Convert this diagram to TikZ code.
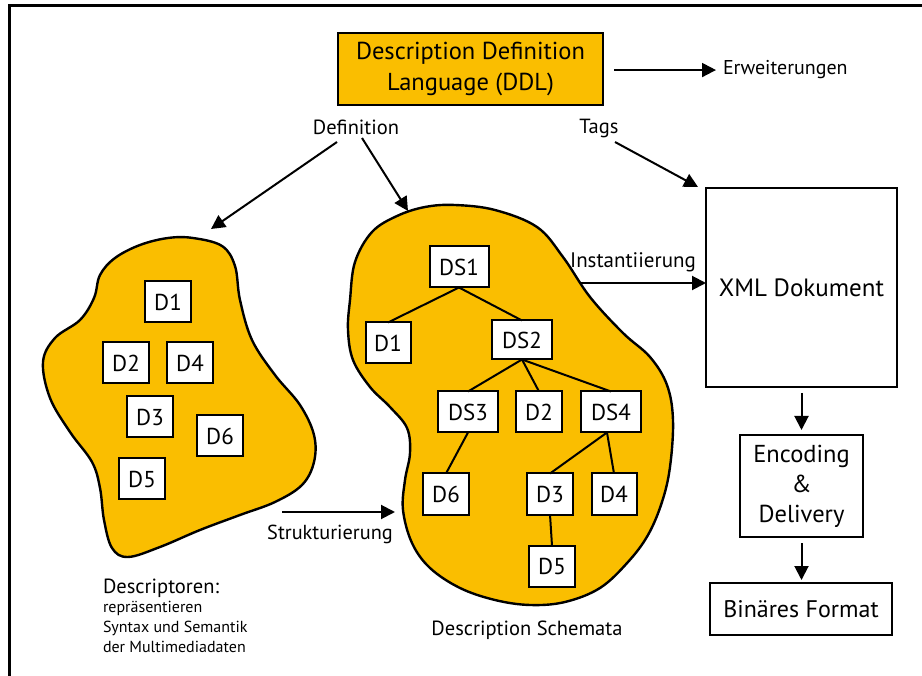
\documentclass[tikz,border=0pt]{standalone}
\usepackage{fontspec}
\setmainfont{PT Sans}
\usetikzlibrary{arrows.meta}
\definecolor{ddlgold}{RGB}{250,190,0}
\newcommand{\fs}[2]{\fontsize{#1}{#2}\selectfont}
\tikzset{
  every node/.style={inner sep=0pt, outer sep=0pt},
  blob/.style={draw=black, fill=ddlgold, line width=2.4pt},
  dbox/.style={draw=black, fill=white, line width=2pt, minimum width=46pt,
    minimum height=41pt, font=\fs{23}{26}},
  dsbox/.style={dbox, minimum width=60pt},
  tree/.style={line width=2pt},
  arr/.style={line width=2pt, -{Triangle[length=14pt,width=14pt]}},
  label/.style={font=\fs{20.5}{24}},
  pbox/.style={draw=black, fill=white, line width=2pt, align=center}
}
\begin{document}
\begin{tikzpicture}[x=1pt, y=-1pt]
\useasboundingbox (0,0) rectangle (922,676);
\fill[white] (0,0) rectangle (922,676);
% outer frame (top and left edges only)
\draw[line width=3pt] (9,676) -- (9,6) -- (922,6);

% ---- DDL box and its outputs
\node[draw=black, fill=ddlgold, line width=2pt, minimum width=265pt,
  minimum height=72pt, align=center, font=\fs{24.5}{31}] (ddl) at (470.5,69)
  {Description Definition\\Language (DDL)};
\node[anchor=base west, font=\fs{20}{24}] (erw) at (723,75) {Erweiterungen};
\draw[arr, shorten <=11pt, shorten >=7pt] (ddl.east |- erw.west) -- (erw.west);

\node[label, anchor=base] (def) at (356,135) {Definition};
\node[label, anchor=base] (tags) at (599,134) {Tags};

% ---- left blob: descriptors
\draw[blob] plot[smooth cycle, tension=0.6] coordinates {
  (193,238) (222,246) (235,266) (240,300) (252,340) (275,375) (300,405)
  (314,435) (314,462) (302,485) (275,502) (240,515) (200,530) (160,547)
  (128,557) (112,548) (104,520) (100,488) (92,462) (70,432) (50,398)
  (43,362) (55,338) (80,320) (94,298) (100,275) (115,258) (140,245) (168,238)};
\node[dbox] (ld1) at (168,302) {D1};
\node[dbox] (ld2) at (126,363) {D2};
\node[dbox] (ld4) at (190,363) {D4};
\node[dbox] (ld3) at (150,417) {D3};
\node[dbox] (ld6) at (220,436) {D6};
\node[dbox] (ld5) at (142,479) {D5};

% ---- right blob: description schemes
\draw[blob] plot[smooth cycle, tension=0.6] coordinates {
  (455,205) (495,210) (537,227) (563,257) (590,297) (623,333) (650,357)
  (667,385) (673,420) (670,467) (662,502) (648,535) (628,562) (600,588)
  (565,602) (530,605) (495,600) (460,588) (430,568) (412,543) (403,510)
  (405,480) (410,453) (407,428) (390,407) (370,387) (353,360) (348,330)
  (350,300) (355,262) (372,232) (397,216) (425,207)};
\node[dsbox, minimum width=59pt] (ds1) at (459,267) {DS1};
\node[dbox, minimum width=45pt] (rd1) at (388,343) {D1};
\node[dsbox, minimum height=39pt] (ds2) at (522,340) {DS2};
\node[dsbox] (ds3) at (468,412) {DS3};
\node[dbox] (rd2) at (539,412) {D2};
\node[dsbox] (ds4) at (611,412) {DS4};
\node[dbox] (rd6) at (446,494) {D6};
\node[dbox] (rd3) at (550,494) {D3};
\node[dbox, minimum width=45pt] (rd4) at (614,494) {D4};
\node[dbox] (rd5) at (552,566) {D5};
\draw[tree] (ds1.south) -- (rd1.north);
\draw[tree] (ds1.south) -- (ds2.north);
\draw[tree] (ds2.south) -- (ds3.north);
\draw[tree] (ds2.south) -- (rd2.north);
\draw[tree] (ds2.south) -- (ds4.north);
\draw[tree] (ds3.south) -- (rd6.north);
\draw[tree] ([xshift=-4pt]ds4.south) -- (rd3.north);
\draw[tree] ([xshift=-4pt]ds4.south) -- (rd4.north);
\draw[tree] (rd3.south) -- (rd5.north);

% ---- arrows from the DDL labels
\coordinate (defl) at (337,142);
\coordinate (defr) at (362,138);
\coordinate (ltip) at (211,229);
\coordinate (rtip) at (408,211);
\coordinate (tagsa) at (615,142);
\draw[arr] (defl) -- (ltip);
\draw[arr] (defr) -- (rtip);

% ---- XML document and processing chain
\node[pbox, minimum width=191pt, minimum height=199pt, font=\fs{25}{30}]
  (xml) at (801.5,287.5) {XML Dokument};
\node[pbox, minimum width=123pt, minimum height=102pt, font=\fs{24.5}{30}]
  (enc) at (801.5,486) {Encoding\\\&\\Delivery};
\node[pbox, minimum width=182pt, minimum height=52pt, font=\fs{24}{28}]
  (bin) at (801,609) {Binäres Format};
\draw[arr] (tagsa) -- ([xshift=-8pt,yshift=1pt]xml.north west);
\draw[arr, shorten <=6pt, shorten >=5pt] (xml.south -| enc.north) -- (enc.north);
\draw[arr, shorten <=6pt, shorten >=3pt] (enc.south) -- (enc.south |- bin.north);

\node[anchor=base, font=\fs{21}{24}] (inst) at (633,268) {Instantiierung};
\coordinate (insta) at (580,283);
\draw[arr] (insta) -- (insta -| xml.west);

\node[anchor=base, font=\fs{20.3}{24}] (strukt) at (330,539) {Strukturierung};
\coordinate (sa) at (282,512);
\coordinate (sb) at (395,512);
\draw[arr] (sa) -- (sb);

% ---- captions
\node[anchor=base west, font=\fs{20.5}{24}] (desc) at (103,593) {Descriptoren:};
\node[anchor=base west, font=\fs{16}{20}] (desc1) at (103,612) {repräsentieren};
\node[anchor=base west, font=\fs{16}{20}] (desc2) at (103,632) {Syntax und Semantik};
\node[anchor=base west, font=\fs{16}{20}] (desc3) at (103,652) {der Multimediadaten};
\node[anchor=base, font=\fs{20.5}{24}] (schem) at (527,635) {Description Schemata};
\end{tikzpicture}
\end{document}
